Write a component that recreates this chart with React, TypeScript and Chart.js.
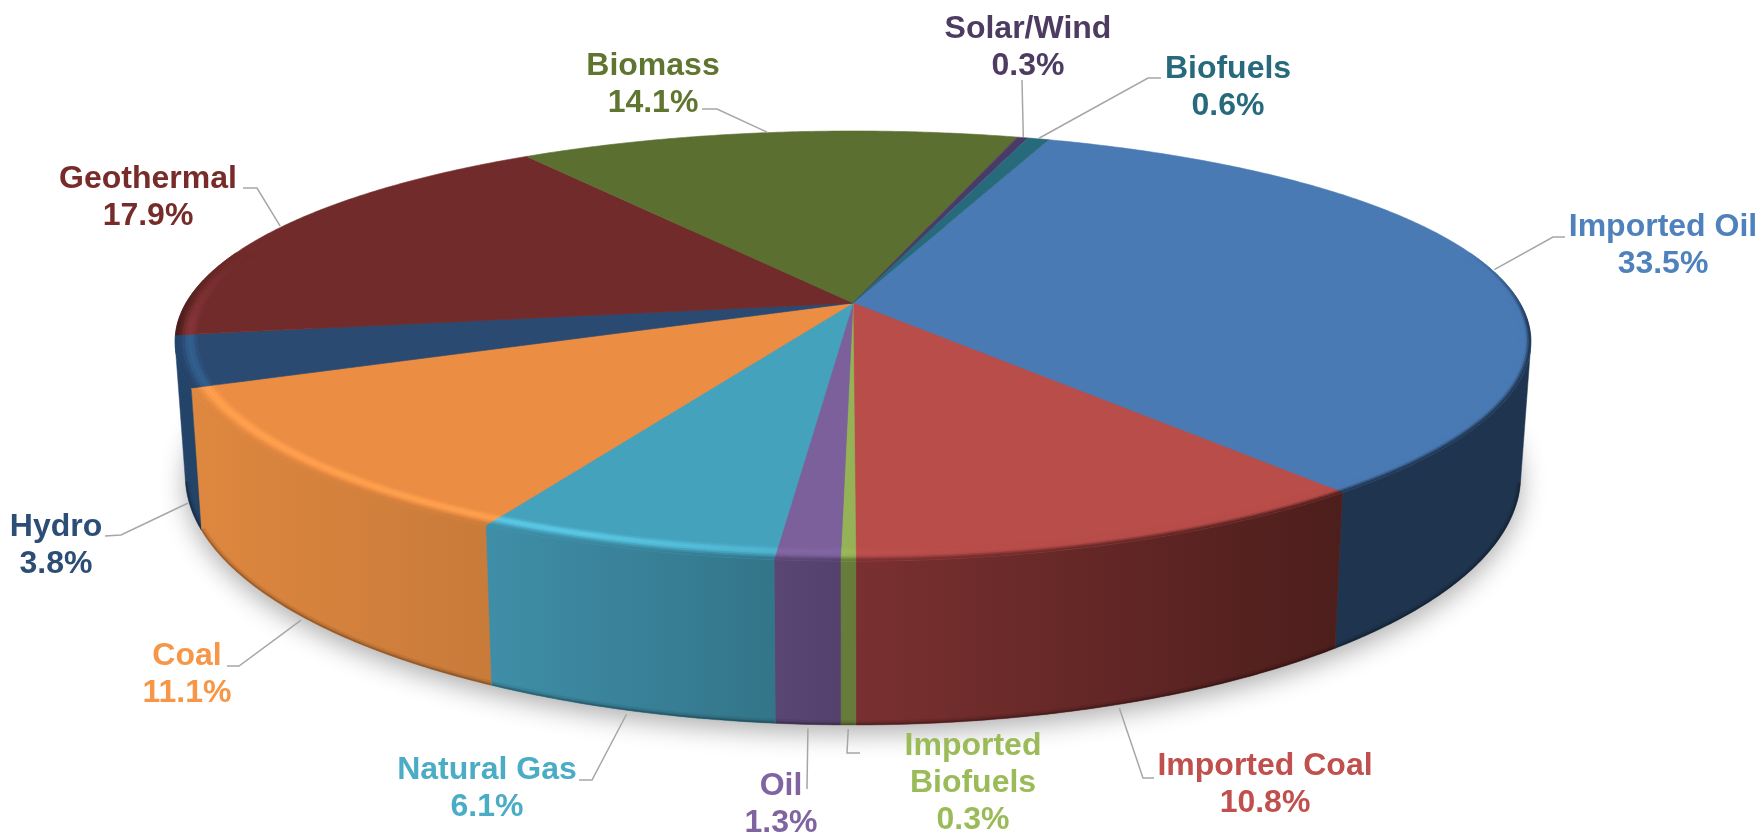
import React, { useEffect, useRef } from "react";
import { Chart, registerables } from "chart.js";

Chart.register(...registerables);

const categories = ["Imported Oil", "Imported Coal", "Imported Biofuels", "Oil", "Natural Gas", "Coal", "Hydro", "Geothermal", "Biomass", "Solar/Wind", "Biofuels"];
const shares = [33.5, 10.8, 0.3, 1.3, 6.1, 11.1, 3.8, 17.9, 14.1, 0.3, 0.6];

const topColors = ["#4a7ab4", "#b84d4a", "#95b356", "#7c609b", "#45a2bc", "#ec8d44", "#2b4a72", "#702b2a", "#5b6f30", "#4a3a68", "#266a7c"];
const textColors = ["#4f81bd", "#c0504d", "#9bbb59", "#8064a2", "#4bacc6", "#f79646", "#2c4d75", "#772c2a", "#5f7530", "#4d3b62", "#276a7c"];
const wallLeft = ["#1f344e", "#7a3030", "#677b3a", "#5a4672", "#3f8ea8", "#de873f", "#24456c", "#4a1c1c", "#3c4a20", "#30264a", "#1a4a58"];
const wallRight = ["#1f344e", "#4c1e1c", "#677b3a", "#54416d", "#337589", "#c97b3a", "#234367", "#4a1c1c", "#3c4a20", "#30264a", "#1a4a58"];
const highlights = ["#5a8cc8", "#c85a56", "#a6c464", "#8c70ac", "#5cc9e6", "#ffa14e", "#33608f", "#86353a", "#6c8238", "#5a4878", "#2e7c90"];

const labelLines = [["Imported Oil"], ["Imported Coal"], ["Imported", "Biofuels"], ["Oil"], ["Natural Gas"], ["Coal"], ["Hydro"], ["Geothermal"], ["Biomass"], ["Solar/Wind"], ["Biofuels"]];
const labelCentreX = [1663, 1265, 973, 781, 487, 187, 56, 148, 653, 1028, 1228];
const labelFirstY = [227, 766, 746, 786, 770, 656, 527, 179, 66, 29, 69];
const leaderPaths = [
  [[1565, 237], [1553, 237]],
  [[1154, 778], [1143, 778]],
  [[860, 753], [847, 753]],
  [[807, 789]],
  [[579, 780], [592, 780]],
  [[227, 666], [239, 666]],
  [[105, 536], [121, 535]],
  [[243, 188], [257, 188]],
  [[702, 109], [717, 109]],
  [[1022, 80]],
  [[1161, 78], [1148, 78]],
];

const P = 0.2;
const X_PERSPECTIVE = 0.89;
const KX = 667 / 303;
const KY = 206.4 / 303;
const DEG = Math.PI / 180;

const clamp = (n: number) => Math.max(0, Math.min(1, n));
const hex = (c: string) => [1, 3, 5].map((i) => parseInt(c.slice(i, i + 2), 16));
const mix = (a: number[], b: number[], t: number) => a.map((n, i) => n + (b[i] - n) * t);
const rgb = (c: number[]) => `rgb(${c.map((n) => Math.round(n)).join(",")})`;

function top(el: any, a: number, rf = 1) {
  const u = Math.cos(a) * rf;
  const v = Math.sin(a) * rf;
  const s = 1 / (1 - P * v);
  return { x: el.x + u * Math.pow(s, X_PERSPECTIVE) * el.outerRadius * KX, y: el.y + v * s * el.outerRadius * KY, v };
}
function bottom(el: any, a: number) {
  const p = top(el, a);
  return { x: el.x + (p.x - el.x) * 0.985, y: p.y + 128 + 36 * p.v, v: p.v };
}
function arcSteps(el: any) {
  const n = Math.max(2, Math.ceil((el.endAngle - el.startAngle) / (0.5 * DEG)));
  const out: number[] = [];
  for (let i = 0; i <= n; i++) out.push(el.startAngle + ((el.endAngle - el.startAngle) * i) / n);
  return out;
}

const pie3d = {
  id: "pie3d",
  beforeDatasetDraw(chart: any) {
    const ctx = chart.ctx as CanvasRenderingContext2D;
    const arcs = chart.getDatasetMeta(0).data as any[];
    const first = arcs[0];

    // soft cast shadow under the disc
    ctx.save();
    ctx.shadowColor = "rgba(0,0,0,0.32)";
    ctx.shadowBlur = 26;
    ctx.shadowOffsetY = 8;
    ctx.fillStyle = "#777";
    ctx.beginPath();
    for (let d = 0; d <= 360; d += 1) {
      const p = bottom(first, d * DEG);
      if (d === 0) ctx.moveTo(p.x, p.y);
      else ctx.lineTo(p.x, p.y);
    }
    ctx.closePath();
    ctx.fill();
    ctx.restore();

    // side walls: only the part of each slice's rim that faces the viewer
    const wallExtent: { min: number; max: number }[] = [];
    const frontSteps = arcs.map((el) => arcSteps(el).filter((a) => Math.sin(a) >= 0.2));
    arcs.forEach((el, i) => {
      const xs = frontSteps[i].map((a) => top(el, a).x);
      wallExtent[i] = xs.length ? { min: Math.min(...xs), max: Math.max(...xs) } : { min: el.x, max: el.x + 1 };
    });
    arcs.forEach((el, i) => {
      const steps = frontSteps[i];
      if (steps.length < 2) return;
      const ext = wallExtent[i];
      const g = ctx.createLinearGradient(ext.min, 0, ext.max + 0.01, 0);
      g.addColorStop(0, wallLeft[i]);
      g.addColorStop(1, wallRight[i]);
      ctx.save();
      ctx.beginPath();
      steps.forEach((a, k) => {
        const p = top(el, a);
        if (k === 0) ctx.moveTo(p.x, p.y);
        else ctx.lineTo(p.x, p.y);
      });
      [...steps].reverse().forEach((a) => {
        const p = bottom(el, a);
        ctx.lineTo(p.x, p.y);
      });
      ctx.closePath();
      ctx.fillStyle = g;
      ctx.strokeStyle = g;
      ctx.lineWidth = 0.5;
      ctx.fill();
      ctx.stroke();
      ctx.clip();
      // darker lip along the foot of the wall
      for (const [w, alpha] of [[9, 0.07], [5, 0.1], [3, 0.14]] as number[][]) {
        ctx.beginPath();
        steps.forEach((a, k) => {
          const p = bottom(el, a);
          if (k === 0) ctx.moveTo(p.x, p.y);
          else ctx.lineTo(p.x, p.y);
        });
        ctx.lineWidth = w;
        ctx.strokeStyle = `rgba(0,0,0,${alpha})`;
        ctx.stroke();
      }
      ctx.restore();
    });

    // top faces
    arcs.forEach((el, i) => {
      ctx.beginPath();
      ctx.moveTo(el.x, el.y);
      arcSteps(el).forEach((a) => {
        const p = top(el, a);
        ctx.lineTo(p.x, p.y);
      });
      ctx.closePath();
      ctx.fillStyle = topColors[i];
      ctx.strokeStyle = topColors[i];
      ctx.lineWidth = 0.6;
      ctx.fill();
      ctx.stroke();
    });

    // bevel band round the rim
    const RINGS = 7;
    arcs.forEach((el, i) => {
      const steps = arcSteps(el);
      const ext = wallExtent[i];
      const base = hex(topColors[i]);
      const light = hex(highlights[i]);
      const wl = hex(wallLeft[i]);
      const wr = hex(wallRight[i]);
      for (let k = 0; k < steps.length - 1; k++) {
        const a0 = steps[k];
        const a1 = steps[k + 1];
        const am = (a0 + a1) / 2;
        const u = Math.cos(am);
        const v = Math.sin(am);
        const weight = clamp((v + 0.25) / 0.35);
        if (weight <= 0) continue;
        const band = u < 0 ? 0.042 - 0.01 * -u : 0.042 - 0.024 * u;
        const hl = clamp((0.15 - u) / 0.5);
        const xm = top(el, am).x;
        const wall = mix(wl, wr, clamp((xm - ext.min) / Math.max(1, ext.max - ext.min)));
        for (let r = 0; r < RINGS; r++) {
          const t = (r + 0.5) / RINGS;
          const bump = Math.sin(Math.PI * Math.min(t / 0.7, 1));
          let c = mix(base, light, hl * bump);
          const dark = clamp((t - 0.55) / 0.45);
          c = mix(c, wall, dark * dark * (3 - 2 * dark));
          c = mix(base, c, weight);
          const r0 = 1 - band * (1 - r / RINGS);
          const r1 = 1 - band * (1 - (r + 1) / RINGS);
          const p = [top(el, a0, r0), top(el, a1, r0), top(el, a1, r1), top(el, a0, r1)];
          ctx.beginPath();
          p.forEach((q, n) => (n === 0 ? ctx.moveTo(q.x, q.y) : ctx.lineTo(q.x, q.y)));
          ctx.closePath();
          ctx.fillStyle = rgb(c);
          ctx.strokeStyle = rgb(c);
          ctx.lineWidth = 0.5;
          ctx.fill();
          ctx.stroke();
        }
      }
    });
    return false;
  },
  afterDatasetsDraw(chart: any) {
    const ctx = chart.ctx as CanvasRenderingContext2D;
    const arcs = chart.getDatasetMeta(0).data as any[];
    arcs.forEach((el, i) => {
      const mid = (el.startAngle + el.endAngle) / 2;
      const front = Math.sin(mid) > 0;
      const b = bottom(el, mid);
      const t = top(el, mid, 1.004);
      const tip = front ? { x: b.x, y: b.y + 4 } : t;
      ctx.beginPath();
      leaderPaths[i].forEach(([x, y], n) => (n === 0 ? ctx.moveTo(x, y) : ctx.lineTo(x, y)));
      ctx.lineTo(tip.x, tip.y);
      ctx.strokeStyle = "#a6a6a6";
      ctx.lineWidth = 1.5;
      ctx.stroke();

      ctx.font = 'bold 32px "Liberation Sans", Arial, sans-serif';
      ctx.fillStyle = textColors[i];
      ctx.textAlign = "center";
      ctx.textBaseline = "middle";
      const lines = [...labelLines[i], `${shares[i].toFixed(1)}%`];
      lines.forEach((line, n) => ctx.fillText(line, labelCentreX[i], labelFirstY[i] + n * 37));
    });
  },
};

export default function App() {
  const ref = useRef<HTMLCanvasElement>(null);
  useEffect(() => {
    const chart = new Chart(ref.current!, {
      type: "pie",
      data: {
        labels: categories,
        datasets: [{ data: shares, backgroundColor: topColors, borderWidth: 0 }],
      },
      options: {
        responsive: false,
        animation: false,
        rotation: 20,
        layout: { padding: { left: 0, top: 0, right: 56, bottom: 228 } },
        plugins: { legend: { display: false }, tooltip: { enabled: false } },
      },
      plugins: [pie3d],
    } as any);
    return () => chart.destroy();
  }, []);
  return (
    <div style={{ position: "absolute", left: 0, top: 0, width: 1762, height: 834, background: "#fff" }}>
      <canvas ref={ref} width={1762} height={834} style={{ display: "block" }} />
    </div>
  );
}
